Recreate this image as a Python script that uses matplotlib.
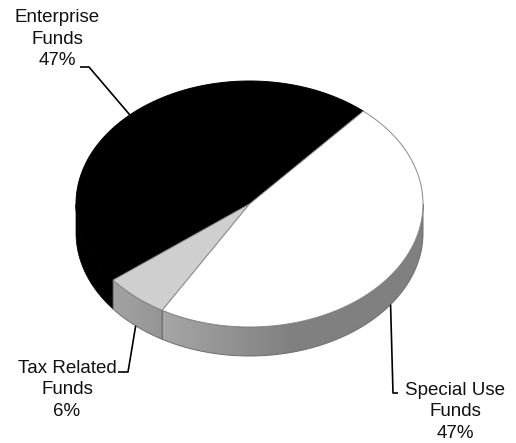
import numpy as np
import matplotlib
matplotlib.use("Agg")
import matplotlib.pyplot as plt
from matplotlib.patches import Polygon

# Fund shares
categories = ["Enterprise\nFunds", "Tax Related\nFunds", "Special Use\nFunds"]
shares = [47, 6, 47]
top_colors = ["#000000", "#cfcfcf", "#ffffff"]
edge_colors = ["#000000", "#8a8a8a", "#8a8a8a"]
side_offsets = [None, -0.07, 0.0]   # None -> solid black wall

plt.rcParams["font.family"] = ["Liberation Sans", "DejaVu Sans"]

W, H = 516, 443
fig = plt.figure(figsize=(W / 100, H / 100), dpi=100)
ax = fig.add_axes([0, 0, 1, 1])
ax.set_xlim(0, W)
ax.set_ylim(H, 0)
ax.axis("off")

# pie geometry (pixel space, y grows downward)
cx, cy = 249.5, 204.0
rx, ry = 173.5, 123.0
depth = 29.0
start = 49.0


def top_pt(a):
    t = np.radians(a)
    return cx + rx * np.cos(t), cy - ry * np.sin(t)


def arc(a0, a1, dz=0.0, n=None):
    n = n or max(int(abs(a1 - a0) * 2), 2)
    t = np.radians(np.linspace(a0, a1, n))
    return np.column_stack([cx + rx * np.cos(t), cy - ry * np.sin(t) + dz])


total = float(sum(shares))
bounds = []
acc = start
for v in shares:
    span = 360.0 * v / total
    bounds.append((acc, acc + span))
    acc += span

# horizontal shading for the walls: lighter on the left, darker on the right
gx = np.linspace(cx - rx, cx + rx, 400)
base_shade = np.clip(0.55 - 0.2 * (gx - cx) / rx, 0.5, 0.7)

# side walls (front half only)
for (a0, a1), off, ec in zip(bounds, side_offsets, edge_colors):
    for lo, hi in ((180, 360), (540, 720)):
        s0, s1 = max(a0, lo), min(a1, hi)
        if s1 <= s0:
            continue
        pts = np.vstack([arc(s0, s1), arc(s1, s0, depth)])
        if off is None:
            ax.add_patch(Polygon(pts, closed=True, fc="black", ec="black", lw=0.5))
            continue
        wall = Polygon(pts, closed=True, fc="none", ec="none")
        ax.add_patch(wall)
        shade = np.clip(base_shade + off, 0, 1)
        img = ax.imshow(np.tile(shade, (2, 1)), cmap="gray", vmin=0, vmax=1,
                        extent=(cx - rx, cx + rx, cy + ry + depth + 2, cy - 2),
                        aspect="auto", interpolation="bilinear", zorder=1)
        img.set_clip_path(wall)
        ax.add_patch(Polygon(pts, closed=True, fill=False, ec="#6e6e6e", lw=0.7, zorder=1.5))

# top faces
for (a0, a1), fc, ec in zip(bounds, top_colors, edge_colors):
    pts = np.vstack([[cx, cy], arc(a0, a1)])
    ax.add_patch(Polygon(pts, closed=True, fc=fc, ec=ec, lw=0.7,
                         joinstyle="round", zorder=2))

# labels with leader lines
label_text = [f"{c}\n{v:.0f}%" for c, v in zip(categories, shares)]
label_xy = [(57, 39), (67, 390), (455, 412)]
elbows = [[(89, 67), (80, 67)], [(128, 372), (118, 372)], [(393, 393), (398, 393)]]
on_bottom = [False, True, True]

for (a0, a1), txt, (tx, ty), elb, bot in zip(bounds, label_text, label_xy, elbows, on_bottom):
    mid = 0.5 * (a0 + a1)
    px, py = top_pt(mid)
    if bot:
        py += depth
    xs = [px] + [p[0] for p in elb]
    ys = [py] + [p[1] for p in elb]
    ax.plot(xs, ys, color="black", lw=1.2, solid_capstyle="butt", zorder=3)
    ax.text(tx, ty, txt, ha="center", va="center", multialignment="center",
            fontsize=13.5, linespacing=1.33, color="#111111", zorder=4)

fig.savefig("out.png", dpi=100)
